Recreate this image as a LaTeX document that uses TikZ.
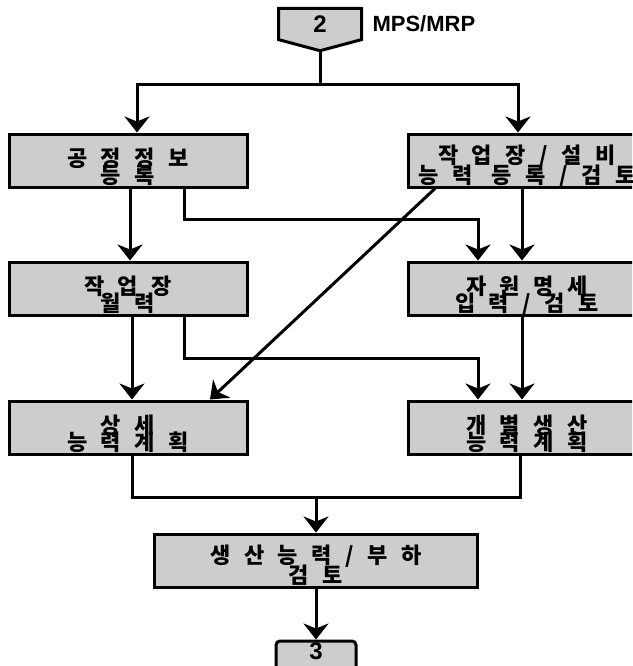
\documentclass[tikz,border=0pt]{standalone}
\usepackage{fontspec}
\setmainfont{Liberation Sans}
\newfontfamily\krfont{Noto Sans CJK KR}[LetterSpace=62]
\usetikzlibrary{shapes.symbols,arrows.meta,positioning,calc}
\definecolor{boxgrey}{RGB}{205,205,205}

\begin{document}
\begin{tikzpicture}[x=1pt, y=-1pt,
    wire/.style={line width=3pt},
    arr/.style={wire, -{Stealth[length=16pt,width=25pt,inset=5pt]}},
    proc/.style={draw=black, line width=3pt, fill=boxgrey, minimum width=238pt,
              minimum height=53pt, inner sep=0pt, align=center,
              text height=47pt, text depth=2pt,
              font=\krfont\bfseries\fontsize{22}{21}\selectfont},
    pg/.style={draw=black, line width=3pt, fill=boxgrey, inner sep=0pt,
              font=\bfseries\fontsize{24}{24}\selectfont}]
\useasboundingbox (0,0) rectangle (632,666);
\clip (0,0) rectangle (632,666);
% off-page connectors
\node[pg, shape=signal, signal to=south, signal pointer angle=150,
      minimum width=83pt, minimum height=33pt] (mps) at (320,24) {2};
\node[right=6pt of mps, font=\bfseries\fontsize{22}{22}\selectfont] (mpslbl) {MPS/MRP};
% process boxes
\node[proc] (info) at (128,160.5) {공정정보\\[-4pt]등록};
\node[proc, right=158pt of info] (wcap) {작업장/설비\\[-4pt]능력 등록/검토};
\node[proc, below=72pt of info] (cal) {작업장\\[-4pt]월력};
\node[proc, below=72pt of wcap] (res) {자원명세\\[-4pt]입력/검토};
\node[proc, below=83pt of cal] (plan) {상세\\[-4pt]능력계획};
\node[proc, below=83pt of res] (ind) {개별생산\\[-4pt]능력계획};
\node[proc, minimum width=323pt] (load) at (316,560.5) {생산능력/부하\\[-4pt]검토};
\node[pg, rounded corners=4pt, minimum width=80pt, minimum height=34pt,
      below=51pt of load] (nxt) {\raisebox{14pt}{3}};
% connectors
\draw[wire] (mps.south) -- ++(0,32) coordinate (fork);
\draw[arr] (fork) -| ([xshift=9pt]info.north);
\draw[arr] (fork) -| ([xshift=-9pt]wcap.north);
\draw[arr] ([xshift=2pt]info.south) -- ([xshift=2pt]cal.north);
\draw[arr] ([xshift=56pt]info.south) -- ++(0,31) -| ([xshift=-49pt]res.north);
\draw[arr] ([xshift=-5pt]wcap.south) -- ([xshift=-5pt]res.north);
\draw[arr] ([xshift=-92pt]wcap.south) -- ([xshift=82pt]plan.north);
\draw[arr] ([xshift=4pt]cal.south) -- ([xshift=4pt]plan.north);
\draw[arr] ([xshift=56pt]cal.south) -- ++(0,42) -| ([xshift=-49pt]ind.north);
\draw[arr] ([xshift=-5pt]res.south) -- ([xshift=-5pt]ind.north);
\draw[wire] ([xshift=4pt]plan.south) -- ++(0,42) coordinate (join) -| ([xshift=-7pt]ind.south);
\draw[arr] (join -| load.north) -- (load.north);
\draw[arr] (load.south) -- (nxt.north);
\end{tikzpicture}
\end{document}
